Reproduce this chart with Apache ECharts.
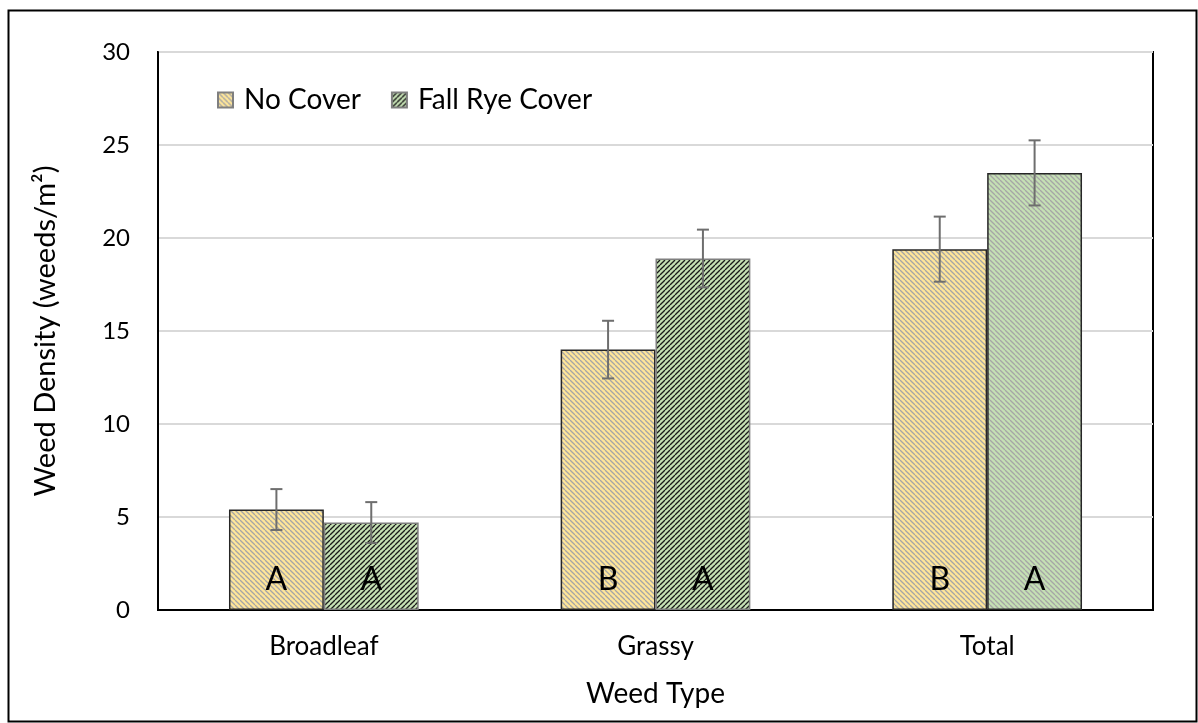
<!DOCTYPE html>
<html>
<head>
<meta charset="utf-8">
<title>Weed density</title>
<script src="https://cdn.jsdelivr.net/npm/echarts@6/dist/echarts.min.js"></script>
<style>
    html, body { margin: 0; padding: 0; background: #fff; }
    #main { width: 1198px; height: 723px; }
</style>
</head>
<body>
<div id="main"></div>
<script>
    // data
    const weedTypes = ['Broadleaf', 'Grassy', 'Total'];
    const noCover = [5.4, 14.0, 19.4];
    const noCoverErr = [1.1, 1.55, 1.75];
    const ryeCover = [4.7, 18.9, 23.5];
    const ryeCoverErr = [1.1, 1.55, 1.75];
    const noCoverLetters = ['A', 'B', 'B'];
    const ryeCoverLetters = ['A', 'A', 'A'];
    const yTicks = [0, 5, 10, 15, 20, 25, 30];

    const FONT = 'Lato, "Open Sans", sans-serif';

    // small tile with diagonal hatch lines
    function hatch(bg, line, dir) {
        const n = 5;
        const c = document.createElement('canvas');
        c.width = n; c.height = n;
        const ctx = c.getContext('2d');
        ctx.fillStyle = bg;
        ctx.fillRect(0, 0, n, n);
        ctx.strokeStyle = line;
        ctx.lineWidth = 1.3;
        for (const k of [-n, 0, n]) {
            ctx.beginPath();
            if (dir === '\\') {
                ctx.moveTo(k, 0); ctx.lineTo(k + n, n);
            } else {
                ctx.moveTo(k, n); ctx.lineTo(k + n, 0);
            }
            ctx.stroke();
        }
        return { image: c, repeat: 'repeat' };
    }

    const yellowHatch = hatch('#FFE699', '#a6a6a6', '\\');
    const greenDark = hatch('#C5E0B4', '#1a1a1a', '/');
    const greenGray = hatch('#C5E0B4', '#a6a6a6', '\\');

    const noCoverData = noCover.map(function (v) {
        return { value: v, itemStyle: { color: yellowHatch, borderColor: '#262626' } };
    });
    const ryeStyles = [
        { color: greenDark, borderColor: '#7f7f7f' },
        { color: greenDark, borderColor: '#7f7f7f' },
        { color: greenGray, borderColor: '#262626' }
    ];
    const ryeData = ryeCover.map(function (v, i) {
        return { value: v, itemStyle: ryeStyles[i] };
    });

    const BAR_FRAC = 0.286;

    function errorSeries(name, vals, errs, side) {
        return {
            name: name + ' err',
            type: 'custom',
            z: 10,
            silent: true,
            data: vals.map(function (v, i) { return [i, v - errs[i], v + errs[i]]; }),
            renderItem: function (params, api) {
                const band = api.size([1, 0])[0];
                const lo = api.coord([api.value(0), api.value(1)]);
                const hi = api.coord([api.value(0), api.value(2)]);
                const x = lo[0] + side * band * BAR_FRAC / 2;
                const cap = 6;
                const st = { stroke: '#6e6e6e', lineWidth: 2 };
                return {
                    type: 'group',
                    children: [
                        { type: 'line', shape: { x1: x, y1: lo[1], x2: x, y2: hi[1] }, style: st },
                        { type: 'line', shape: { x1: x - cap, y1: hi[1], x2: x + cap, y2: hi[1] }, style: st },
                        { type: 'line', shape: { x1: x - cap, y1: lo[1], x2: x + cap, y2: lo[1] }, style: st }
                    ]
                };
            }
        };
    }

    function letterLabel(letters) {
        return {
            show: true,
            position: 'insideBottom',
            distance: 12,
            formatter: function (p) { return letters[p.dataIndex]; },
            color: '#000',
            fontFamily: FONT,
            fontSize: 32,
            lineHeight: 36
        };
    }

    const option = {
        animation: false,
        backgroundColor: '#fff',
        textStyle: { fontFamily: FONT },
        grid: {
            left: 158, right: 45, top: 52, bottom: 113,
            show: true, borderColor: '#000', borderWidth: 2
        },
        legend: {
            left: 212, top: 81,
            itemWidth: 15, itemHeight: 15, itemGap: 30,
            icon: 'rect',
            data: ['No Cover', 'Fall Rye Cover'],
            textStyle: { fontFamily: FONT, fontSize: 28, color: '#000', padding: [0, 0, 0, 6] }
        },
        xAxis: {
            type: 'category',
            data: weedTypes,
            name: 'Weed Type',
            nameLocation: 'middle',
            nameGap: 70,
            nameTextStyle: { fontFamily: FONT, fontSize: 28, color: '#000' },
            axisLine: { lineStyle: { color: '#000', width: 2 } },
            axisTick: { show: false },
            axisLabel: { fontFamily: FONT, fontSize: 26, color: '#000', margin: 24 }
        },
        yAxis: {
            type: 'value',
            min: yTicks[0], max: yTicks[yTicks.length - 1], interval: 5,
            name: 'Weed Density (weeds/m²)',
            nameLocation: 'middle',
            nameGap: 98,
            nameTextStyle: { fontFamily: FONT, fontSize: 29, color: '#000' },
            axisLine: { show: true, lineStyle: { color: '#000', width: 2 } },
            axisTick: { show: false },
            axisLabel: { fontFamily: FONT, fontSize: 24, color: '#000', margin: 28 },
            splitLine: { lineStyle: { color: '#d9d9d9', width: 2 } }
        },
        series: [
            {
                name: 'No Cover',
                type: 'bar',
                barWidth: (BAR_FRAC * 100) + '%',
                barGap: '0%',
                itemStyle: { color: yellowHatch, borderColor: '#7f7f7f', borderWidth: 1.5 },
                data: noCoverData,
                label: letterLabel(noCoverLetters)
            },
            {
                name: 'Fall Rye Cover',
                type: 'bar',
                barWidth: (BAR_FRAC * 100) + '%',
                barGap: '0%',
                itemStyle: { color: greenDark, borderColor: '#7f7f7f', borderWidth: 1.5 },
                data: ryeData,
                label: letterLabel(ryeCoverLetters)
            },
            errorSeries('No Cover', noCover, noCoverErr, -1),
            errorSeries('Fall Rye Cover', ryeCover, ryeCoverErr, 1)
        ],
        graphic: [
            {
                type: 'rect',
                shape: { x: 8.5, y: 10.5, width: 1188, height: 711 },
                style: { fill: 'none', stroke: '#000', lineWidth: 2 },
                silent: true
            }
        ]
    };

    const myChart = echarts.init(document.getElementById('main'));
    myChart.setOption(option);
</script>
</body>
</html>
